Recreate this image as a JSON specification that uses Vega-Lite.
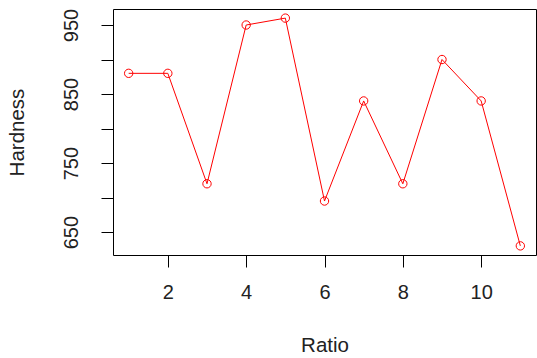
{
  "$schema": "https://vega.github.io/schema/vega-lite/v6.json",
  "autosize": {"type": "none"},
  "width": 423,
  "height": 246,
  "padding": {"left": 113, "top": 9, "right": 1, "bottom": 103},
  "background": "white",
  "config": {
    "view": {"stroke": "black", "strokeWidth": 1},
    "axis": {
      "grid": false, "domain": false, "tickColor": "black", "tickSize": 12, "tickWidth": 1,
      "labelFont": "Liberation Sans", "labelFontSize": 20, "labelColor": "#222",
      "titleFont": "Liberation Sans", "titleFontSize": 20.5, "titleFontWeight": "normal", "titleColor": "#222"
    }
  },
  "data": {"values": [
    {"Ratio": 1, "Hardness": 880},
    {"Ratio": 2, "Hardness": 880},
    {"Ratio": 3, "Hardness": 720},
    {"Ratio": 4, "Hardness": 950},
    {"Ratio": 5, "Hardness": 960},
    {"Ratio": 6, "Hardness": 695},
    {"Ratio": 7, "Hardness": 840},
    {"Ratio": 8, "Hardness": 720},
    {"Ratio": 9, "Hardness": 900},
    {"Ratio": 10, "Hardness": 840},
    {"Ratio": 11, "Hardness": 630}
  ]},
  "encoding": {
    "x": {"field": "Ratio", "type": "quantitative",
      "scale": {"domain": [0.6, 11.4], "nice": false, "zero": false},
      "axis": {"values": [2, 4, 6, 8, 10], "labelPadding": 15, "titlePadding": 33, "labelFlush": false}},
    "y": {"field": "Hardness", "type": "quantitative",
      "scale": {"domain": [616.8, 973.2], "nice": false, "zero": false},
      "axis": {"values": [650, 700, 750, 800, 850, 900, 950], "labelAngle": -90,
        "labelExpr": "datum.value % 100 == 50 ? datum.label : ''",
        "labelPadding": 20, "titlePadding": 34, "labelFlush": false}}
  },
  "layer": [
    {"mark": {"type": "line", "color": "#ff0000", "strokeWidth": 1}},
    {"mark": {"type": "point", "shape": "circle", "filled": false, "color": "#ff0000", "size": 70, "strokeWidth": 1, "opacity": 1}}
  ]
}
